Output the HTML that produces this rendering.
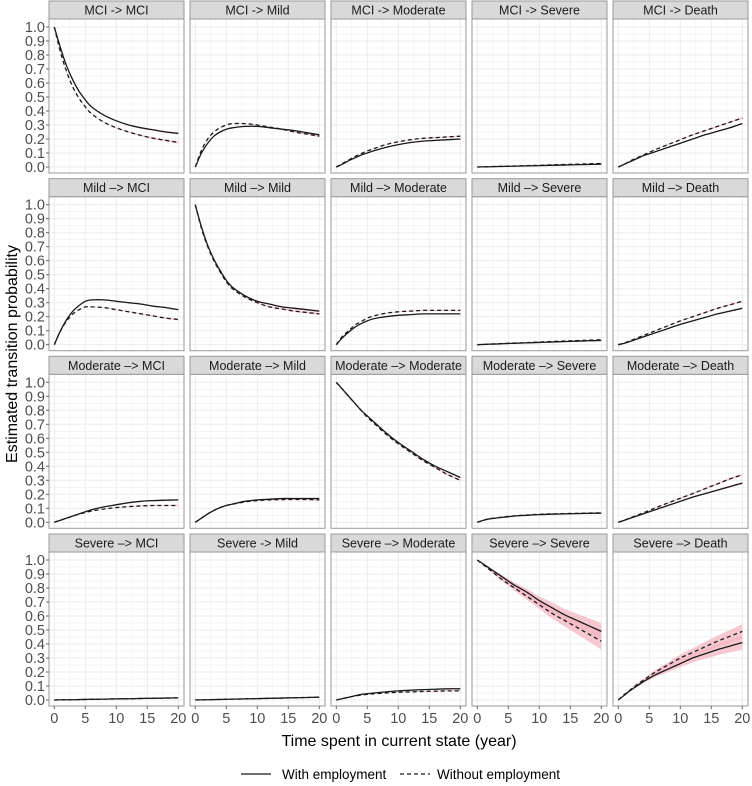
<!DOCTYPE html>
<html><head><meta charset="utf-8"><style>
body{margin:0;background:#fff;}
svg{display:block;font-family:"Liberation Sans",sans-serif;}
</style></head><body>
<svg id="c" width="752" height="786"></svg>
<script>
const times=[0,1,2,3,4,5,6,8,10,12,14,16,18,20];
const titles=["MCI -> MCI","MCI -> Mild","MCI -> Moderate","MCI -> Severe","MCI -> Death",
"Mild \u2013> MCI","Mild \u2013> Mild","Mild \u2013> Moderate","Mild \u2013> Severe","Mild \u2013> Death",
"Moderate \u2013> MCI","Moderate \u2013> Mild","Moderate \u2013> Moderate","Moderate \u2013> Severe","Moderate \u2013> Death",
"Severe \u2013> MCI","Severe -> Mild","Severe \u2013> Moderate","Severe \u2013> Severe","Severe \u2013> Death"];
const withEmp=[
[1,.85,.72,.62,.54,.48,.43,.37,.33,.30,.28,.265,.25,.24],
[0,.1,.17,.22,.25,.27,.28,.29,.29,.28,.27,.26,.245,.23],
[0,.02,.045,.065,.085,.10,.115,.14,.16,.175,.185,.19,.195,.2],
[0,.001,.002,.003,.004,.005,.006,.008,.01,.012,.014,.016,.018,.02],
[0,.02,.04,.06,.08,.095,.11,.14,.17,.2,.23,.255,.28,.31],
[0,.1,.18,.24,.28,.31,.32,.32,.31,.3,.29,.275,.265,.25],
[1,.84,.71,.61,.53,.46,.41,.35,.31,.29,.27,.26,.25,.24],
[0,.05,.09,.125,.15,.17,.185,.2,.21,.215,.22,.22,.22,.22],
[0,.002,.004,.005,.007,.009,.01,.013,.016,.019,.022,.025,.028,.03],
[0,.01,.025,.04,.055,.07,.085,.115,.145,.17,.195,.22,.24,.26],
[0,.015,.03,.045,.06,.075,.09,.11,.125,.14,.15,.155,.158,.16],
[0,.03,.06,.085,.105,.12,.13,.15,.16,.165,.17,.17,.17,.17],
[1,.95,.9,.85,.8,.76,.72,.64,.57,.51,.45,.4,.36,.32],
[0,.015,.025,.03,.035,.04,.045,.05,.055,.058,.06,.062,.064,.065],
[0,.015,.03,.045,.06,.075,.09,.12,.15,.18,.205,.23,.255,.28],
[0,.001,.002,.002,.003,.004,.005,.006,.008,.009,.011,.012,.014,.015],
[0,.001,.002,.003,.004,.005,.006,.008,.01,.012,.014,.016,.018,.02],
[0,.01,.02,.03,.04,.045,.05,.058,.065,.07,.074,.077,.08,.08],
[1,.97,.94,.91,.88,.85,.82,.77,.71,.66,.61,.57,.53,.49],
[0,.035,.07,.1,.13,.155,.18,.22,.26,.3,.33,.36,.385,.41]];
const withoutEmp=[
[1,.82,.68,.57,.49,.43,.38,.32,.28,.25,.225,.205,.19,.175],
[0,.12,.2,.25,.28,.3,.31,.31,.3,.285,.27,.25,.235,.22],
[0,.025,.05,.075,.095,.115,.13,.16,.18,.195,.205,.21,.215,.22],
[0,.001,.002,.004,.005,.006,.007,.01,.012,.015,.018,.02,.023,.025],
[0,.02,.045,.065,.085,.105,.125,.16,.195,.23,.26,.29,.32,.35],
[0,.1,.17,.22,.25,.27,.27,.265,.25,.235,.22,.205,.19,.18],
[1,.83,.7,.6,.52,.45,.4,.34,.3,.27,.255,.24,.23,.22],
[0,.06,.1,.14,.165,.19,.205,.225,.235,.24,.245,.245,.245,.245],
[0,.002,.004,.006,.008,.01,.012,.015,.019,.023,.026,.029,.032,.035],
[0,.012,.03,.047,.065,.082,.1,.135,.17,.2,.23,.26,.285,.31],
[0,.015,.03,.045,.058,.07,.08,.095,.105,.112,.117,.12,.12,.12],
[0,.03,.06,.085,.105,.12,.13,.145,.155,.16,.162,.163,.163,.16],
[1,.95,.9,.85,.8,.75,.71,.63,.56,.5,.44,.39,.34,.30],
[0,.015,.025,.032,.037,.042,.046,.052,.057,.06,.062,.064,.066,.067],
[0,.015,.033,.05,.067,.085,.103,.138,.172,.205,.24,.275,.31,.34],
[0,.001,.002,.002,.003,.004,.005,.006,.008,.009,.011,.012,.014,.015],
[0,.001,.002,.003,.004,.005,.006,.008,.01,.012,.014,.016,.018,.02],
[0,.01,.02,.028,.035,.04,.044,.05,.055,.058,.061,.063,.065,.065],
[1,.965,.93,.895,.86,.83,.8,.74,.68,.62,.57,.52,.47,.42],
[0,.04,.075,.11,.14,.17,.2,.25,.3,.34,.38,.42,.455,.49]];
const bands=[.008,.006,.005,.002,.006,.006,.008,.005,.002,.006,.005,.005,.006,.004,.008,.002,.002,.004,.06,.05];
const yTicks=[0,.1,.2,.3,.4,.5,.6,.7,.8,.9,1];
const xTicks=[0,5,10,15,20];

const NS="http://www.w3.org/2000/svg";
const svg=document.getElementById('c');
function mk(tag,attrs,parent){const e=document.createElementNS(NS,tag);for(const k in attrs)e.setAttribute(k,attrs[k]);(parent||svg).appendChild(e);return e;}
function smooth(pts){let d='M'+pts[0][0]+','+pts[0][1];for(let k=0;k<pts.length-1;k++){const p0=pts[k-1]||pts[k],p1=pts[k],p2=pts[k+1],p3=pts[k+2]||p2;
 d+=' C'+(p1[0]+(p2[0]-p0[0])/6)+','+(p1[1]+(p2[1]-p0[1])/6)+' '+(p2[0]-(p3[0]-p1[0])/6)+','+(p2[1]-(p3[1]-p1[1])/6)+' '+p2[0]+','+p2[1];}return d;}
const colX=[49,190,331,472,613], rowY=[1,178.7,356.3,534];
const PW=135, SH=18, PH=154;
for(let i=0;i<20;i++){
  const r=Math.floor(i/5),c=i%5;
  const x0=colX[c], y0=rowY[r]+SH;
  const g=mk('g',{});
  
  
  const sx=t=>x0+5.3+t*(124/20);
  const sy=v=>y0+PH-6-v*140;
  mk('rect',{x:x0,y:y0,width:PW,height:PH,fill:'#fff'},g);
  for(let t=0;t<=20;t+=2.5){mk('line',{x1:sx(t),x2:sx(t),y1:y0,y2:y0+PH,stroke:'#ebebeb','stroke-width':t%5==0?1:0.5},g);}
  for(let v=0;v<=1.0001;v+=0.05){mk('line',{x1:x0,x2:x0+PW,y1:sy(v),y2:sy(v),stroke:'#ebebeb','stroke-width':(Math.round(v*20)%2==0)?1:0.5},g);}
  [withEmp[i],withoutEmp[i]].forEach(arr=>{
    let up=[],dn=[];
    times.forEach((t,k)=>{const b=bands[i]*t/20;up.push(sx(t)+','+sy(arr[k]+b));dn.unshift(sx(t)+','+sy(arr[k]-b));});
    const p=mk('polygon',{points:up.concat(dn).join(' '),fill:'#f4b6c2','fill-opacity':0.75},g);
    
    
  });
  const lw=mk('path',{d:smooth(times.map((t,k)=>[sx(t),sy(withEmp[i][k])])),fill:'none',stroke:'#1a1a1a','stroke-width':1.3},g);
  
  
  const lo=mk('path',{d:smooth(times.map((t,k)=>[sx(t),sy(withoutEmp[i][k])])),fill:'none',stroke:'#1a1a1a','stroke-width':1.3,'stroke-dasharray':'4,3'},g);
  
  
  mk('rect',{x:x0,y:y0,width:PW,height:PH,fill:'none',stroke:'#9a9a9a','stroke-width':1},g);
  mk('rect',{x:x0,y:y0-SH,width:PW,height:SH,fill:'#d9d9d9',stroke:'#9a9a9a','stroke-width':1},g);
  const st=mk('text',{x:x0+PW/2,y:y0-4.5,'text-anchor':'middle','font-size':12.5,fill:'#1a1a1a'},g);
  st.textContent=titles[i];
  
  
  if(c==0){yTicks.forEach(v=>{mk('line',{x1:x0-3,x2:x0,y1:sy(v),y2:sy(v),stroke:'#666'},g);
    const tx=mk('text',{x:x0-4,y:sy(v)+5,'text-anchor':'end','font-size':14.5,fill:'#4d4d4d'},g);tx.textContent=v.toFixed(1);
    });}
  if(r==3){xTicks.forEach(t=>{mk('line',{x1:sx(t),x2:sx(t),y1:y0+PH,y2:y0+PH+3,stroke:'#666'},g);
    const tx=mk('text',{x:sx(t),y:y0+PH+17,'text-anchor':'middle','font-size':14.5,fill:'#4d4d4d'},g);tx.textContent=t;
    });}
}
</script>
<svg style="position:absolute;left:0;top:0" width="752" height="786">
<text x="0" y="0" transform="translate(17,354) rotate(-90)" text-anchor="middle" font-size="16" fill="#000">Estimated transition probability</text>
<text x="399" y="746" text-anchor="middle" font-size="16" fill="#000">Time spent in current state (year)</text>
<g>
<line x1="241" x2="271" y1="774" y2="774" stroke="#1a1a1a" stroke-width="1.3"/>
<text x="282" y="779" font-size="13.5" fill="#000">With employment</text>
<line x1="400" x2="430" y1="774" y2="774" stroke="#1a1a1a" stroke-width="1.3" stroke-dasharray="4,3"/>
<text x="437" y="779" font-size="13.5" fill="#000">Without employment</text>
</g>
</svg>
</body></html>
